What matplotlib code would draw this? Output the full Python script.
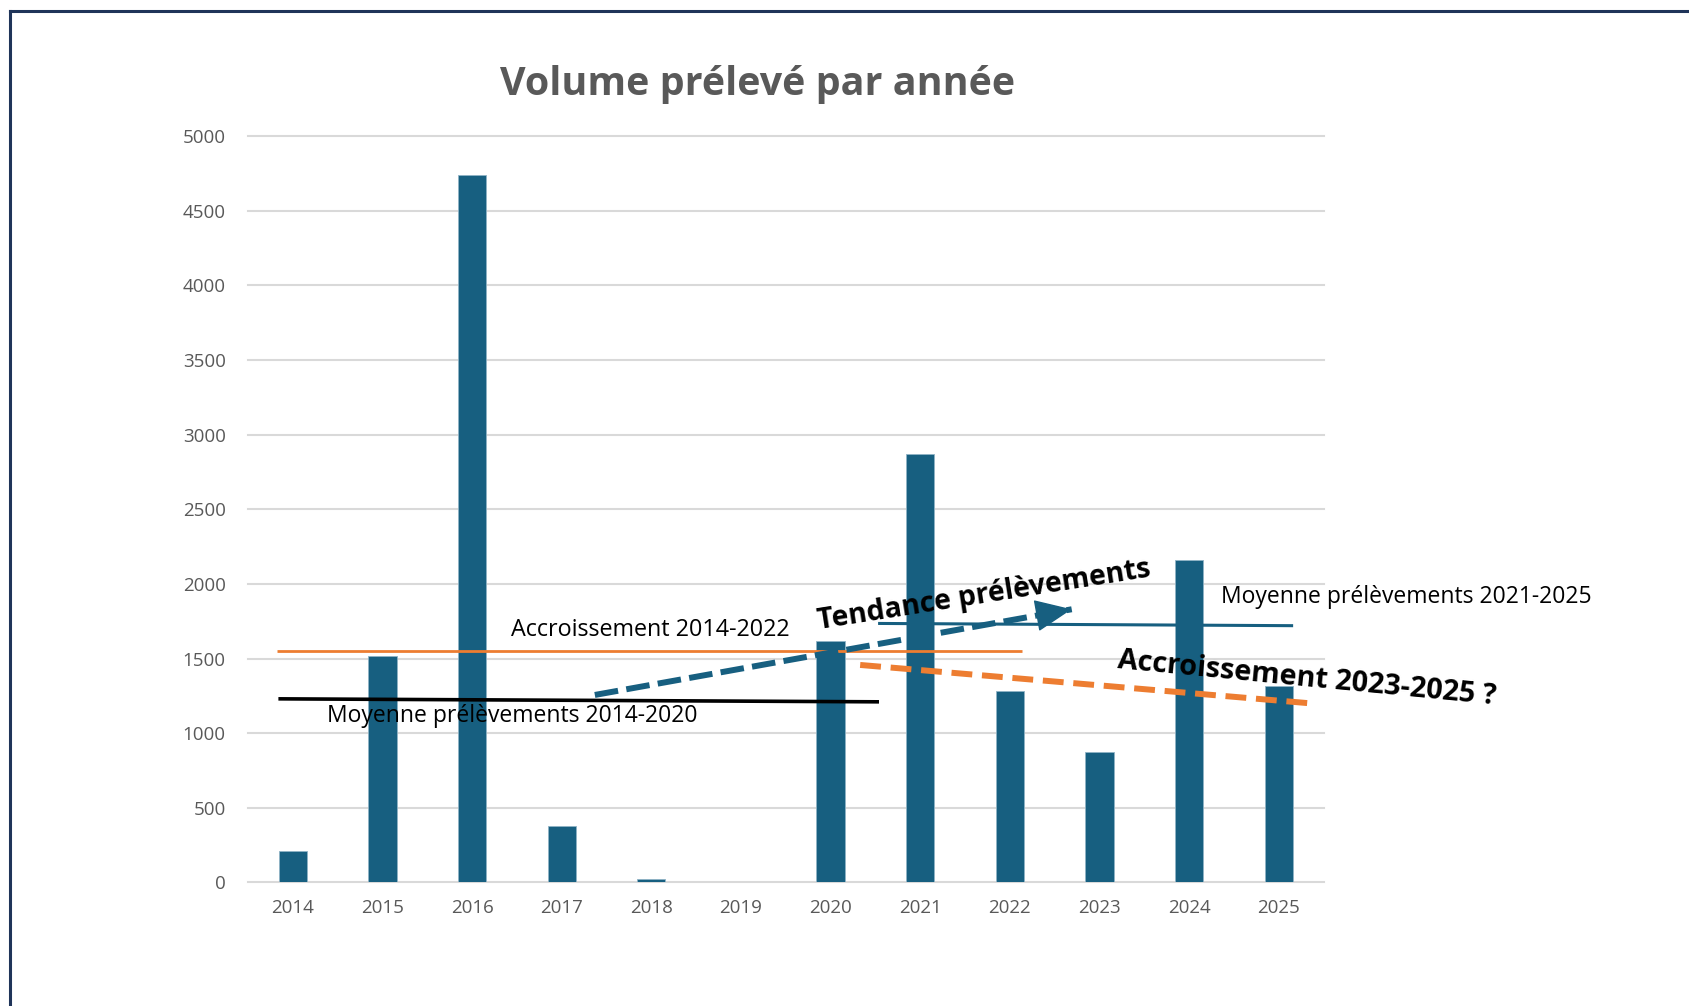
import matplotlib
matplotlib.use("Agg")
import matplotlib.pyplot as plt
from matplotlib.lines import Line2D

# ---------------- data ----------------
years = ['2014', '2015', '2016', '2017', '2018', '2019', '2020', '2021', '2022', '2023', '2024', '2025']
volumes = [210, 1520, 4740, 378, 22, 0, 1620, 2870, 1285, 876, 2160, 1316]
yticks = [0, 500, 1000, 1500, 2000, 2500, 3000, 3500, 4000, 4500, 5000]
title = 'Volume prélevé par année'

# reference lines drawn on the chart (x in category index units, y in volume)
moy_1420_x = [-0.16, 6.54]
moy_1420_y = [1230, 1210]
accr_1422_x = [-0.18, 8.13]
accr_1422_y = [1553, 1553]
moy_2125_x = [6.53, 11.16]
moy_2125_y = [1735, 1720]
tend_x = [3.37, 8.69]
tend_y = [1256, 1830]
accr_2325_x = [6.33, 11.35]
accr_2325_y = [1457, 1200]

lbl_accr_1422 = 'Accroissement 2014-2022'
lbl_moy_1420 = 'Moyenne prélèvements 2014-2020'
lbl_moy_2125 = 'Moyenne prélèvements 2021-2025'
lbl_tend = 'Tendance prélèvements'
lbl_accr_2325 = 'Accroissement 2023-2025 ?'

# ---------------- style ----------------
plt.rcParams['font.family'] = ['Open Sans', 'DejaVu Sans']
plt.rcParams['lines.scale_dashes'] = False
BAR = '#175F80'
ORANGE = '#ED7D31'
GRAY_TXT = '#595959'
GRID = '#D9D9D9'

fig = plt.figure(figsize=(16.9, 10.06), dpi=100)
ax = fig.add_axes([0.1467, 0.1228, 0.6365, 0.7420])

x = list(range(len(years)))
ax.bar(x, volumes, width=0.315, color=BAR, edgecolor='#8fb3c6', linewidth=0.6, zorder=2)

ax.set_xlim(-0.5, len(years) - 0.5)
ax.set_ylim(0, 5000)
ax.set_yticks(yticks)
ax.set_xticks(x)
ax.set_xticklabels(years)
ax.tick_params(axis='both', length=0, labelsize=13.5, labelcolor=GRAY_TXT)
ax.tick_params(axis='y', pad=16)
ax.tick_params(axis='x', pad=12)
ax.grid(axis='y', color=GRID, linewidth=1.5, zorder=0)
ax.set_axisbelow(True)
for gl in ax.get_ygridlines():
    gl.set_clip_on(False)
for s in ax.spines.values():
    s.set_visible(False)

# reference lines
ax.plot(accr_1422_x, accr_1422_y, color=ORANGE, lw=2.0, zorder=4, solid_capstyle='butt')
ax.plot(moy_1420_x, moy_1420_y, color='black', lw=2.6, zorder=4, solid_capstyle='butt')
ax.plot(moy_2125_x, moy_2125_y, color=BAR, lw=2.2, zorder=4, solid_capstyle='butt')
ax.plot(tend_x, tend_y, color=BAR, lw=4.3, zorder=5, linestyle=(0, (17, 6)), dash_capstyle='butt')
ax.plot(accr_2325_x, accr_2325_y, color=ORANGE, lw=4.3, zorder=5, linestyle=(0, (15, 7)), dash_capstyle='butt')

# arrow head at the end of the trend line
frac = 0.93
hx = tend_x[0] + frac * (tend_x[1] - tend_x[0])
hy = tend_y[0] + frac * (tend_y[1] - tend_y[0])
ax.annotate('', xy=(tend_x[1], tend_y[1]), xytext=(hx, hy),
            arrowprops=dict(arrowstyle='-|>,head_length=2.4,head_width=1.05',
                            mutation_scale=10, color=BAR, lw=1,
                            shrinkA=0, shrinkB=0), zorder=6)

# labels
ax.text(2.43, 1691, lbl_accr_1422, fontsize=16.8, color='black', ha='left', va='center', zorder=7)
ax.text(0.38, 1115, lbl_moy_1420, fontsize=16.5, color='black', ha='left', va='center', zorder=7)
ax.text(10.35, 1910, lbl_moy_2125, fontsize=16.5, color='black', ha='left', va='center', zorder=7)
ax.text(7.71, 1920, lbl_tend, fontsize=20.4, fontweight='bold', color='black',
        ha='center', va='center', rotation=9, rotation_mode='anchor', zorder=7)
ax.text(11.31, 1363, lbl_accr_2325, fontsize=20.8, fontweight='bold', color='black',
        ha='center', va='center', rotation=-5.5, rotation_mode='anchor', zorder=7)

# title
fig.text(0.4484, 0.9165, title, fontsize=28.4, fontweight='bold', color=GRAY_TXT,
         ha='center', va='center')

# frame (top and left border visible)
fig.add_artist(Line2D([10 / 1690, 1.0], [1 - 11 / 1006, 1 - 11 / 1006], color='#1F3459', lw=2.2,
                      transform=fig.transFigure))
fig.add_artist(Line2D([10 / 1690, 10 / 1690], [0.0, 1 - 11 / 1006], color='#1F3459', lw=2.2,
                      transform=fig.transFigure))

fig.savefig('out.png', dpi=100)
